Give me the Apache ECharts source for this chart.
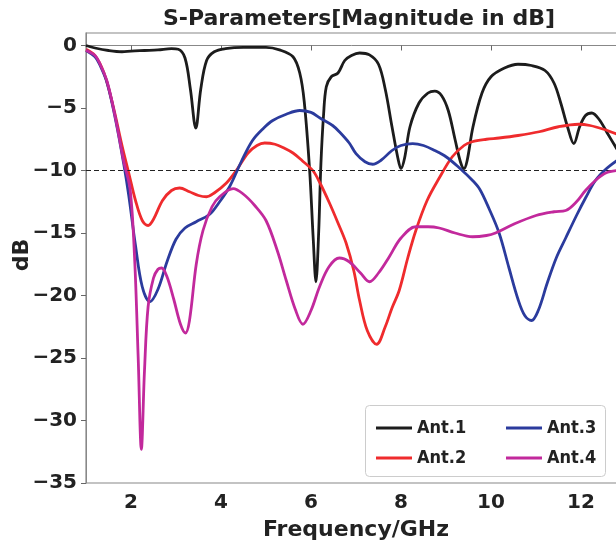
<!DOCTYPE html>
<html>
  <head>
    <meta charset="utf-8" />
    <title>S-Parameters</title>
    <script src="https://cdn.jsdelivr.net/npm/echarts@6/dist/echarts.min.js"></script>
  </head>
  <body style="margin: 0">
    <div id="main" style="width: 616px; height: 544px"></div>

    <script>
      // 频率 (GHz) 与各天线 S 参数 (dB)
      var ant1Freq = [1.0, 1.2, 1.5, 1.8, 2.0, 2.3, 2.6, 2.9, 3.05, 3.2, 3.32, 3.44, 3.55, 3.68, 3.85, 4.1, 4.5, 5.0, 5.3, 5.6, 5.75, 5.85, 5.97, 6.05, 6.11, 6.17, 6.22, 6.28, 6.34, 6.45, 6.6, 6.75, 6.9, 7.08, 7.3, 7.5, 7.65, 7.8, 7.93, 8.0, 8.08, 8.2, 8.4, 8.6, 8.75, 8.9, 9.05, 9.2, 9.32, 9.4, 9.47, 9.6, 9.8, 10.0, 10.3, 10.6, 10.9, 11.2, 11.4, 11.55, 11.7, 11.84, 11.97, 12.1, 12.24, 12.4, 12.6, 12.8];
      var ant1 = [0, -0.2, -0.4, -0.5, -0.45, -0.4, -0.35, -0.25, -0.3, -1.0, -3.5, -6.6, -3.5, -1.2, -0.5, -0.25, -0.15, -0.15, -0.35, -0.9, -2.2, -4.5, -10, -15.5, -18.9, -15, -9.5, -5.5, -3.3, -2.5, -2.2, -1.2, -0.8, -0.6, -0.75, -1.5, -3.5, -6.5, -9.0, -9.85, -9, -6.5, -4.6, -3.8, -3.65, -4.0, -5.2, -7.5, -9.3, -9.85, -9.2, -6.5, -3.8, -2.5, -1.8, -1.5, -1.6, -2.0, -3.0, -4.6, -6.5, -7.85, -6.5, -5.6, -5.4, -5.9, -7.1, -8.3];

      var ant2Freq = [1.0, 1.2, 1.4, 1.6, 1.8, 1.95, 2.1, 2.25, 2.38, 2.5, 2.7, 2.9, 3.08, 3.3, 3.5, 3.68, 3.85, 4.12, 4.34, 4.6, 4.8, 4.97, 5.2, 5.4, 5.6, 5.8, 6.04, 6.2, 6.41, 6.6, 6.78, 6.95, 7.08, 7.25, 7.46, 7.65, 7.8, 7.96, 8.15, 8.33, 8.58, 8.85, 9.14, 9.4, 9.58, 9.9, 10.18, 10.6, 11.07, 11.5, 11.95, 12.2, 12.5, 12.8];
      var ant2 = [-0.3, -0.8, -2.2, -4.8, -8, -10.2, -12.4, -14.0, -14.4, -13.9, -12.4, -11.6, -11.4, -11.7, -12.0, -12.1, -11.8, -11.0, -10.0, -8.6, -8.0, -7.8, -7.9, -8.2, -8.6, -9.2, -10, -11, -12.6, -14.2, -15.8, -18, -20.4, -22.8, -23.9, -22.5, -21, -19.6, -17, -14.8, -12.4, -10.6, -8.9, -8.0, -7.7, -7.5, -7.4, -7.2, -6.9, -6.5, -6.3, -6.4, -6.7, -7.1];

      var ant3Freq = [1.0, 1.2, 1.3, 1.47, 1.66, 1.84, 1.95, 2.1, 2.25, 2.42, 2.6, 2.8, 3.0, 3.2, 3.45, 3.75, 3.95, 4.19, 4.45, 4.7, 4.95, 5.15, 5.45, 5.75, 6.0, 6.2, 6.48, 6.63, 6.85, 7.0, 7.2, 7.37, 7.55, 7.8, 8.0, 8.26, 8.5, 8.75, 9.0, 9.3, 9.59, 9.75, 9.95, 10.18, 10.4, 10.6, 10.75, 10.9, 11.05, 11.25, 11.45, 11.66, 11.9, 12.1, 12.32, 12.55, 12.8];
      var ant3 = [-0.4, -0.9, -1.5, -3.0, -6.0, -9.5, -12, -16, -19.3, -20.5, -19.5, -17.3, -15.5, -14.6, -14.1, -13.5, -12.6, -11.3, -9.3, -7.6, -6.6, -6.0, -5.5, -5.2, -5.35, -5.8, -6.4, -6.9, -7.8, -8.65, -9.3, -9.5, -9.2, -8.4, -8.0, -7.85, -8.0, -8.4, -8.9, -9.8, -10.8, -11.5, -13.0, -15.0, -17.8, -20.3, -21.6, -22.0, -21.2, -19.0, -17.0, -15.4, -13.6, -12.2, -10.8, -9.9, -9.2];

      var ant4Freq = [1.0, 1.2, 1.3, 1.47, 1.66, 1.84, 1.98, 2.08, 2.16, 2.23, 2.3, 2.38, 2.5, 2.6, 2.68, 2.8, 2.95, 3.1, 3.21, 3.3, 3.45, 3.6, 3.8, 3.97, 4.27, 4.5, 4.75, 5.0, 5.25, 5.45, 5.65, 5.82, 6.0, 6.19, 6.4, 6.63, 6.85, 7.1, 7.3, 7.5, 7.74, 8.0, 8.33, 8.6, 8.85, 9.2, 9.59, 9.9, 10.1, 10.5, 11.0, 11.4, 11.66, 11.9, 12.1, 12.32, 12.55, 12.8];
      var ant4 = [-0.4, -0.8, -1.4, -2.9, -5.9, -9.3, -11.5, -17, -25, -32.3, -26, -20.9, -18.6, -17.9, -17.8, -18.5, -20.3, -22.3, -23.0, -22, -17.5, -14.8, -12.9, -12.1, -11.45, -11.9, -12.8, -14.0, -16.4, -18.8, -21.1, -22.3, -21.2, -19.3, -17.7, -17.0, -17.3, -18.2, -18.9, -18.2, -16.9, -15.4, -14.5, -14.5, -14.6, -15.0, -15.3, -15.2, -15.0, -14.3, -13.6, -13.3, -13.2, -12.5, -11.6, -10.8, -10.2, -10.0];

      var seriesNames = ["Ant.1", "Ant.2", "Ant.3", "Ant.4"];
      var xTicks = [2, 4, 6, 8, 10, 12];
      var yTicks = [-35, -30, -25, -20, -15, -10, -5, 0];
      var threshold = -10;

      function pairs(xs, ys) {
        return xs.map(function (x, i) {
          return [x, ys[i]];
        });
      }

      var colors = ["#1c1c1c", "#ef2b2d", "#2b3b9d", "#c2299c"];
      var allData = [
        pairs(ant1Freq, ant1),
        pairs(ant2Freq, ant2),
        pairs(ant3Freq, ant3),
        pairs(ant4Freq, ant4),
      ];

      var font = "DejaVu Sans";
      var myChart = echarts.init(document.getElementById("main"));

      var series = seriesNames.map(function (name, i) {
        return {
          name: name,
          type: "line",
          data: allData[i],
          smooth: 0.35,
          symbol: "none",
          z: 3 + i,
          lineStyle: { color: colors[i], width: 2.8 },
          itemStyle: { color: colors[i] },
        };
      });
      // -10 dB 参考线
      series[0].markLine = {
        silent: true,
        symbol: "none",
        label: { show: false },
        lineStyle: { color: "#222", type: [5, 3], width: 1 },
        data: [{ yAxis: threshold }],
      };

      var legendText = {
        fontFamily: "DejaVu Sans Condensed",
        fontWeight: "bold",
        fontSize: 18,
        color: "#222",
      };
      var legendBase = {
        orient: "vertical",
        top: 414,
        itemGap: 12,
        itemWidth: 36,
        itemHeight: 3,
        icon: "rect",
        z: 20,
        textStyle: legendText,
      };

      var option = {
        animation: false,
        title: {
          text: "S-Parameters[Magnitude in dB]",
          left: 158,
          top: 3,
          textStyle: { fontFamily: font, fontWeight: "bold", fontSize: 22, color: "#222" },
        },
        grid: {
          left: 86,
          top: 33,
          right: -10,
          bottom: 61,
          outerBoundsMode: "none",
          containLabel: false,
          show: true,
          borderColor: "#888",
          borderWidth: 1.2,
        },
        legend: [
          Object.assign({}, legendBase, { data: ["Ant.1", "Ant.2"], left: 371 }),
          Object.assign({}, legendBase, { data: ["Ant.3", "Ant.4"], left: 501 }),
        ],
        graphic: [
          {
            type: "rect",
            left: 365,
            top: 405,
            z: 1,
            shape: { width: 240, height: 71, r: 4 },
            style: { fill: "rgba(255,255,255,0.8)", stroke: "#ccc", lineWidth: 1 },
          },
          // y 轴标题
          {
            type: "text",
            x: 22,
            y: 255,
            rotation: Math.PI / 2,
            style: {
              text: "dB",
              align: "center",
              verticalAlign: "middle",
              font: "bold 22px 'DejaVu Sans'",
              fill: "#222",
            },
          },
        ],
        xAxis: {
          type: "value",
          min: 1,
          max: 13,
          name: "Frequency/GHz",
          nameLocation: "middle",
          nameGap: 36,
          nameTextStyle: { fontFamily: font, fontWeight: "bold", fontSize: 22, color: "#222" },
          splitLine: { show: false },
          axisLine: { lineStyle: { color: "#888" } },
          axisTick: { customValues: xTicks, length: 5, lineStyle: { color: "#666" } },
          axisLabel: {
            customValues: xTicks,
            margin: 10,
            fontFamily: font,
            fontWeight: "bold",
            fontSize: 20,
            color: "#222",
          },
        },
        yAxis: {
          type: "value",
          min: -35,
          max: 1,
          splitLine: { show: false },
          axisLine: { show: true, lineStyle: { color: "#888" } },
          axisTick: { show: true, customValues: yTicks, length: 5, lineStyle: { color: "#666" } },
          axisLabel: {
            customValues: yTicks,
            margin: 9,
            fontFamily: font,
            fontWeight: "bold",
            fontSize: 20,
            color: "#222",
            formatter: function (v) {
              return String(v).replace("-", "\u2212");
            },
          },
        },
        series: series,
      };

      myChart.setOption(option);
    </script>
  </body>
</html>
